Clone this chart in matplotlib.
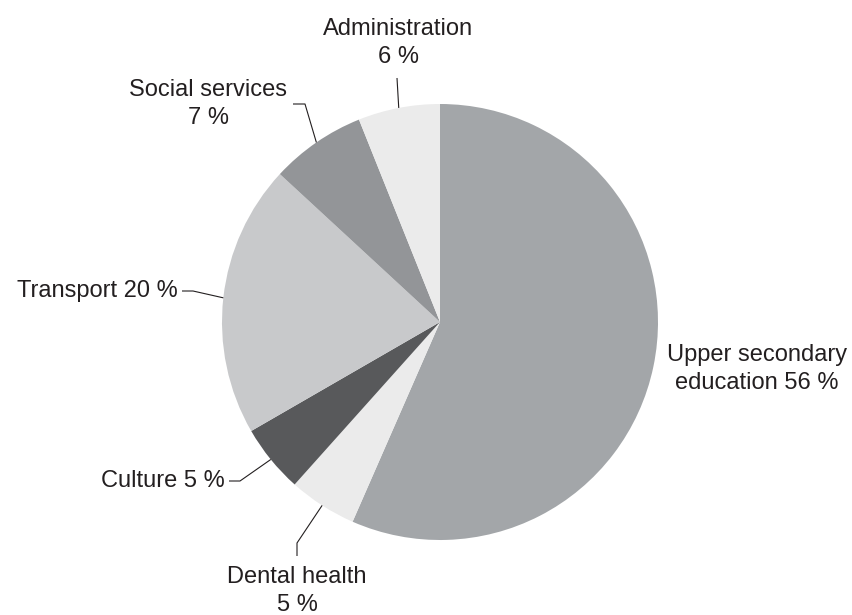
import numpy as np
import matplotlib.pyplot as plt

# Share of spending by sector (percent)
sectors = ['Upper secondary\neducation', 'Dental health', 'Culture',
           'Transport', 'Social services', 'Administration']
shares = [56, 5, 5, 20, 7, 6]
label_texts = ['Upper secondary\neducation 56 %', 'Dental health\n5 %', 'Culture 5 %',
               'Transport 20 %', 'Social services\n7 %', 'Administration\n6 %']
colors = ['#a3a6a9', '#ebebeb', '#58595b', '#c8c9cb', '#939598', '#ebebeb']

W, H = 852, 615
fig = plt.figure(figsize=(W / 100, H / 100), dpi=100)
ax = fig.add_axes([0, 0, 1, 1])

cx, cy, r = 440, H - 322, 218
wedges, _ = ax.pie(shares, colors=colors, startangle=90, counterclock=False,
                   center=(cx, cy), radius=r, frame=True,
                   wedgeprops=dict(linewidth=0))
ax.set_xlim(0, W)
ax.set_ylim(0, H)
ax.set_aspect('equal')
ax.axis('off')

txt_kw = dict(fontsize=17, color='#231f20', family='Liberation Sans',
              linespacing=1.35)
line_kw = dict(color='#231f20', linewidth=0.8, solid_capstyle='butt')

# label placement (text anchor, alignment, leader path after the wedge edge), y measured downward
layout = [
    ((757, 369), 'center', []),
    ((297, 591), 'center', [(297, 543), (297, 556)]),
    ((225, 481), 'right', [(240, 481), (229, 481)]),
    ((178, 291), 'right', [(193, 291), (182, 291)]),
    ((208, 104), 'center', [(305, 104), (293, 104)]),
    ((398, 43), 'center', [(397, 78)]),
]

for w, text, (pos, ha, path) in zip(wedges, label_texts, layout):
    ax.text(pos[0], H - pos[1], text, ha=ha, va='center', multialignment='center', **txt_kw)
    if path:
        mid = np.deg2rad((w.theta1 + w.theta2) / 2)
        x0 = cx + r * np.cos(mid)
        y0 = cy + r * np.sin(mid)
        xs = [x0] + [p[0] for p in path]
        ys = [y0] + [H - p[1] for p in path]
        ax.plot(xs, ys, **line_kw)

fig.savefig('out.png', dpi=100, facecolor='white')
